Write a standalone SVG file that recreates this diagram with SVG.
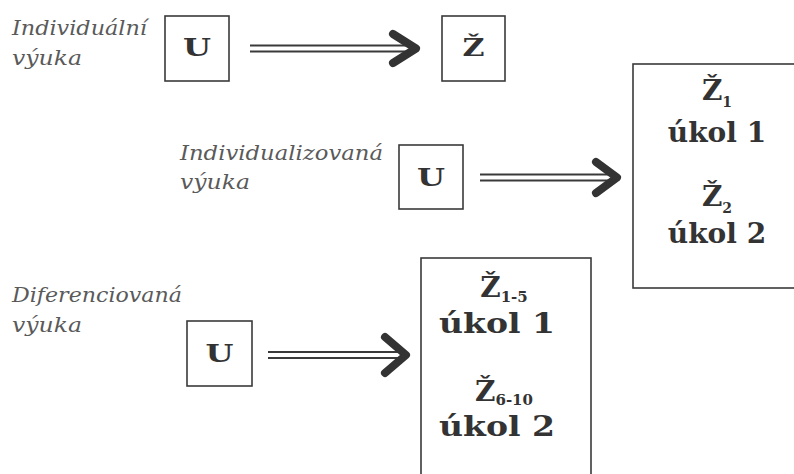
<svg xmlns="http://www.w3.org/2000/svg" width="794" height="474" viewBox="0 0 794 474">
<defs>
<style>
.bg{fill:#fff}
.box{fill:#fff;stroke:#3a3a3a;stroke-width:1.6}
.lab{font-family:"DejaVu Serif","Liberation Serif",serif;font-style:italic;font-size:20px;fill:#5a5a5a}
.b{font-family:"DejaVu Serif","Liberation Serif",serif;font-weight:bold;fill:#333;text-anchor:middle}
.line{fill:none;stroke:#3a3a3a;stroke-width:2}
.head{fill:none;stroke:#333;stroke-width:8;stroke-linecap:round;stroke-linejoin:round}
</style>
</defs>
<rect class="bg" x="0" y="0" width="794" height="474"/>

<g id="label-individualni">
<text class="lab" x="12" y="35" textLength="135" lengthAdjust="spacingAndGlyphs">Individuální</text>
<text class="lab" x="12" y="65" textLength="70" lengthAdjust="spacingAndGlyphs">výuka</text>
</g>
<g id="label-individualizovana">
<text class="lab" x="180" y="160" textLength="203" lengthAdjust="spacingAndGlyphs">Individualizovaná</text>
<text class="lab" x="180" y="189" textLength="70" lengthAdjust="spacingAndGlyphs">výuka</text>
</g>
<g id="label-diferenciovana">
<text class="lab" x="12" y="302" textLength="170" lengthAdjust="spacingAndGlyphs">Diferenciovaná</text>
<text class="lab" x="12" y="332" textLength="70" lengthAdjust="spacingAndGlyphs">výuka</text>
</g>

<g id="u1">
<rect class="box" x="165" y="16" width="64" height="65"/>
<text class="b" x="197" y="56" font-size="25" textLength="28" lengthAdjust="spacingAndGlyphs">U</text>
</g>
<g id="z1">
<rect class="box" x="442" y="16" width="63" height="65"/>
<text class="b" x="473.5" y="56" font-size="25" textLength="22" lengthAdjust="spacingAndGlyphs">Ž</text>
</g>
<g id="u2">
<rect class="box" x="399" y="145" width="64" height="64"/>
<text class="b" x="431" y="186" font-size="25" textLength="28" lengthAdjust="spacingAndGlyphs">U</text>
</g>
<g id="z-right">
<rect class="box" x="633" y="64" width="200" height="224"/>
<text class="b" x="717" y="100" font-size="28">Ž<tspan font-size="14" dy="7">1</tspan></text>
<text class="b" x="717" y="142" font-size="28">úkol 1</text>
<text class="b" x="717" y="206" font-size="28">Ž<tspan font-size="14" dy="7">2</tspan></text>
<text class="b" x="717" y="243" font-size="28">úkol 2</text>
</g>
<g id="u3">
<rect class="box" x="187" y="321" width="65" height="65"/>
<text class="b" x="219.5" y="362" font-size="25" textLength="28" lengthAdjust="spacingAndGlyphs">U</text>
</g>
<g id="z-bottom">
<rect class="box" x="421" y="258" width="170" height="240"/>
<text class="b" x="504" y="297" font-size="28">Ž<tspan font-size="15" dy="5">1-5</tspan></text>
<text class="b" x="497" y="333" font-size="28" textLength="116" lengthAdjust="spacingAndGlyphs">úkol 1</text>
<text class="b" x="504" y="401" font-size="28">Ž<tspan font-size="15" dy="4">6-10</tspan></text>
<text class="b" x="497" y="436" font-size="28" textLength="116" lengthAdjust="spacingAndGlyphs">úkol 2</text>
</g>

<g id="connectors">
<path class="line" d="M250 45.5H410M250 51.5H410"/>
<polyline class="head" points="393,34 416,48.5 393,63"/>
<path class="line" d="M480 174.5H610M480 180.5H610"/>
<polyline class="head" points="596,162 617,177.5 596,193"/>
<path class="line" d="M268 352H400M268 358H400"/>
<polyline class="head" points="385,337 406,355 385,373"/>
</g>
</svg>
